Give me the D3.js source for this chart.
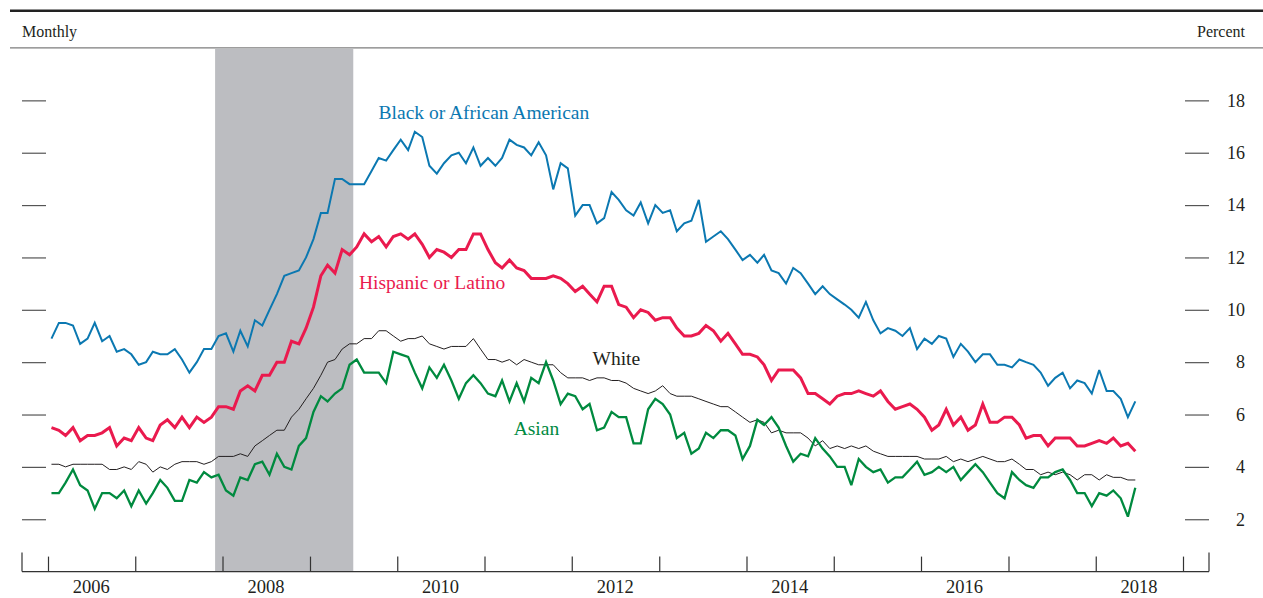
<!DOCTYPE html>
<html>
<head>
<meta charset="utf-8">
<script src="https://cdn.jsdelivr.net/npm/d3@7"></script>
<style>
  body { margin: 0; background: #ffffff; }
  svg { display: block; }
</style>
</head>
<body>
<script>
(function() {

//------------------------------------------------------------------------------
//
// Data
//
//------------------------------------------------------------------------------

// Monthly, Jan 2006 - Jun 2018, percent.
var blackRates = [
  8.9, 9.5, 9.5, 9.4, 8.7, 8.9, 9.5, 8.8, 9.0, 8.4, 8.5, 8.3,
  7.9, 8.0, 8.4, 8.3, 8.3, 8.5, 8.1, 7.6, 8.0, 8.5, 8.5, 9.0,
  9.1, 8.4, 9.2, 8.6, 9.6, 9.4, 10.0, 10.6, 11.3, 11.4, 11.5, 12.0,
  12.7, 13.7, 13.7, 15.0, 15.0, 14.8, 14.8, 14.8, 15.3, 15.8, 15.7, 16.1,
  16.5, 16.1, 16.8, 16.6, 15.5, 15.2, 15.6, 15.9, 16.0, 15.6, 16.2, 15.5,
  15.8, 15.5, 15.8, 16.5, 16.3, 16.2, 15.9, 16.4, 15.9, 14.6, 15.6, 15.4,
  13.6, 14.0, 14.0, 13.3, 13.5, 14.5, 14.2, 13.8, 13.6, 14.1, 13.3, 14.0,
  13.7, 13.8, 13.0, 13.3, 13.4, 14.2, 12.6, 12.8, 13.0, 12.7, 12.3, 11.9,
  12.1, 11.8, 12.1, 11.5, 11.4, 11.0, 11.6, 11.4, 11.0, 10.6, 10.9, 10.6,
  10.4, 10.2, 10.0, 9.7, 10.3, 9.6, 9.1, 9.3, 9.2, 9.0, 9.3, 8.5,
  8.9, 8.7, 9.0, 8.9, 8.2, 8.7, 8.4, 8.0, 8.3, 8.3, 7.9, 7.9,
  7.8, 8.1, 8.0, 7.9, 7.6, 7.1, 7.4, 7.6, 7.0, 7.3, 7.2, 6.8,
  7.7, 6.9, 6.9, 6.6, 5.9, 6.5
];

var hispanicRates = [
  5.5, 5.4, 5.2, 5.5, 5.0, 5.2, 5.2, 5.3, 5.5, 4.8, 5.1, 5.0,
  5.5, 5.1, 5.0, 5.6, 5.8, 5.5, 5.9, 5.5, 5.9, 5.7, 5.9, 6.3,
  6.3, 6.2, 6.9, 7.1, 6.9, 7.5, 7.5, 8.0, 8.0, 8.8, 8.7, 9.3,
  10.1, 11.3, 11.7, 11.4, 12.3, 12.1, 12.4, 12.9, 12.6, 12.8, 12.4, 12.8,
  12.9, 12.7, 12.9, 12.5, 12.0, 12.3, 12.2, 12.0, 12.3, 12.3, 12.9, 12.9,
  12.3, 11.8, 11.6, 11.9, 11.6, 11.5, 11.2, 11.2, 11.2, 11.3, 11.2, 11.0,
  10.7, 10.9, 10.6, 10.3, 10.9, 10.9, 10.2, 10.1, 9.7, 10.0, 9.9, 9.6,
  9.7, 9.7, 9.3, 9.0, 9.0, 9.1, 9.4, 9.2, 8.8, 9.1, 8.7, 8.3,
  8.3, 8.2, 7.9, 7.3, 7.7, 7.7, 7.7, 7.4, 6.8, 6.8, 6.6, 6.4,
  6.7, 6.8, 6.8, 6.9, 6.8, 6.7, 6.9, 6.5, 6.2, 6.3, 6.4, 6.2,
  5.9, 5.4, 5.6, 6.2, 5.6, 5.9, 5.4, 5.6, 6.4, 5.7, 5.7, 5.9,
  5.9, 5.6, 5.1, 5.2, 5.2, 4.8, 5.1, 5.1, 5.1, 4.8, 4.8, 4.9,
  5.0, 4.9, 5.1, 4.8, 4.9, 4.6
];

var whiteRates = [
  4.1, 4.1, 4.0, 4.1, 4.1, 4.1, 4.1, 4.1, 3.9, 3.9, 4.0, 3.9,
  4.2, 4.1, 3.8, 4.0, 3.9, 4.1, 4.2, 4.2, 4.2, 4.1, 4.2, 4.4,
  4.4, 4.4, 4.5, 4.4, 4.8, 5.0, 5.2, 5.4, 5.4, 5.9, 6.2, 6.6,
  7.0, 7.5, 8.0, 8.1, 8.5, 8.7, 8.7, 8.9, 8.9, 9.2, 9.2, 9.0,
  8.8, 8.9, 8.9, 9.0, 8.7, 8.6, 8.5, 8.6, 8.6, 8.6, 8.9, 8.5,
  8.1, 8.1, 8.0, 8.1, 7.9, 8.1, 8.0, 7.9, 7.9, 7.9, 7.6, 7.4,
  7.4, 7.4, 7.3, 7.4, 7.4, 7.3, 7.3, 7.2, 7.0, 6.9, 6.8, 6.9,
  7.1, 6.8, 6.7, 6.7, 6.7, 6.6, 6.5, 6.4, 6.3, 6.3, 6.1, 5.9,
  5.7, 5.8, 5.7, 5.3, 5.4, 5.3, 5.3, 5.3, 5.1, 4.8, 5.0, 4.7,
  4.8, 4.7, 4.8, 4.7, 4.8, 4.6, 4.5, 4.4, 4.4, 4.4, 4.4, 4.4,
  4.3, 4.3, 4.3, 4.4, 4.2, 4.3, 4.2, 4.3, 4.4, 4.3, 4.2, 4.2,
  4.3, 4.1, 3.9, 3.9, 3.7, 3.8, 3.7, 3.8, 3.7, 3.5, 3.7, 3.7,
  3.5, 3.7, 3.6, 3.6, 3.5, 3.5
];

var asianRates = [
  3.0, 3.0, 3.4, 3.9, 3.3, 3.1, 2.4, 3.0, 3.0, 2.8, 3.1, 2.5,
  3.1, 2.6, 3.0, 3.5, 3.2, 2.7, 2.7, 3.5, 3.4, 3.8, 3.6, 3.7,
  3.1, 2.9, 3.6, 3.5, 4.1, 4.2, 3.7, 4.5, 4.0, 3.9, 4.8, 5.1,
  6.1, 6.7, 6.5, 6.8, 7.0, 7.9, 8.1, 7.6, 7.6, 7.6, 7.2, 8.4,
  8.3, 8.2, 7.6, 7.0, 7.8, 7.4, 7.9, 7.3, 6.6, 7.2, 7.5, 7.2,
  6.8, 6.7, 7.3, 6.5, 7.2, 6.5, 7.4, 7.2, 8.0, 7.3, 6.4, 6.8,
  6.7, 6.2, 6.4, 5.4, 5.5, 6.1, 5.9, 5.9, 4.9, 4.9, 6.2, 6.6,
  6.4, 6.0, 5.1, 5.3, 4.5, 4.7, 5.3, 5.1, 5.4, 5.4, 5.2, 4.3,
  4.8, 5.8, 5.6, 5.9, 5.5, 4.8, 4.2, 4.5, 4.4, 5.1, 4.7, 4.4,
  4.0, 4.0, 3.3, 4.3, 4.0, 3.8, 3.9, 3.4, 3.6, 3.6, 3.9, 4.2,
  3.7, 3.8, 4.0, 3.8, 4.0, 3.5, 3.8, 4.1, 3.8, 3.4, 3.0, 2.8,
  3.8, 3.5, 3.3, 3.2, 3.6, 3.6, 3.8, 3.9, 3.5, 3.0, 3.0, 2.5,
  3.0, 2.9, 3.1, 2.8, 2.1, 3.2
];

var months = d3.timeMonth.range(new Date(2006, 0, 1), new Date(2018, 6, 1));
var yearTicks = d3.range(2006, 2020);
var yearLabels = [2006, 2008, 2010, 2012, 2014, 2016, 2018];
var percentTicks = [2, 4, 6, 8, 10, 12, 14, 16, 18];
var recession = [new Date(2007, 11, 1), new Date(2009, 6, 1)];


var chart = {

//------------------------------------------------------------------------------
//
// Properties
//
//------------------------------------------------------------------------------

width: 1263,
height: 598,
font: "'Liberation Serif', 'Times New Roman', Times, serif",
ink: "#231f20",

plot: { left: 48, right: 1183, top: 48, bottom: 571.6, pad: 26 },

series: [
  { name: "Black or African American", values: blackRates, color: "#0b78b1", width: 2,
    label: { at: new Date(2009, 9, 15), value: 17.27 } },
  { name: "Hispanic or Latino", values: hispanicRates, color: "#ea1a4e", width: 3,
    label: { at: new Date(2009, 6, 25), value: 10.81 } },
  { name: "White", values: whiteRates, color: "#231f20", width: 1,
    label: { at: new Date(2012, 2, 28), value: 7.89 } },
  { name: "Asian", values: asianRates, color: "#008a3f", width: 2.3,
    label: { at: new Date(2011, 4, 3), value: 5.21 } }
],

drawOrder: [0, 1, 2, 3],


//------------------------------------------------------------------------------
//
// Methods
//
//------------------------------------------------------------------------------

initialize: function() {
  var $this = this, p = this.plot;

  this.x = d3.scaleTime()
    .domain([new Date(2006, 0, 1), new Date(2019, 0, 1)])
    .range([p.left, p.right]);
  this.y = d3.scaleLinear()
    .domain([0, 20])
    .range([p.bottom, p.top]);

  this.svg = d3.select("body").append("svg")
    .attr("width", this.width)
    .attr("height", this.height)
    .style("font-family", this.font);

  this.drawFrame();
  this.drawRecession();
  this.drawAxes();
  this.drawLines();
  this.drawLabels();
},

//--------------------------------------
// Frame
//--------------------------------------

drawFrame: function() {
  this.svg.append("line")
    .attr("x1", 10).attr("x2", this.width)
    .attr("y1", 10.7).attr("y2", 10.7)
    .style("stroke", "#222222")
    .style("stroke-width", 2.6);

  this.svg.append("line")
    .attr("x1", 10).attr("x2", this.width)
    .attr("y1", 47.8).attr("y2", 47.8)
    .style("stroke", "#7d7d7d")
    .style("stroke-width", 1.3);

  this.svg.append("text")
    .attr("x", 22).attr("y", 37)
    .attr("font-size", "16px")
    .style("fill", this.ink)
    .text("Monthly");

  this.svg.append("text")
    .attr("x", 1245).attr("y", 37)
    .attr("text-anchor", "end")
    .attr("font-size", "16px")
    .style("fill", this.ink)
    .text("Percent");
},

drawRecession: function() {
  var x = this.x;
  this.svg.append("rect")
    .attr("x", x(recession[0]))
    .attr("y", this.plot.top + 0.6)
    .attr("width", x(recession[1]) - x(recession[0]))
    .attr("height", this.plot.bottom - this.plot.top - 0.6)
    .style("fill", "#bcbdc1");
},

//--------------------------------------
// Axes
//--------------------------------------

drawAxes: function() {
  var $this = this, x = this.x, y = this.y, p = this.plot;
  var x0 = p.left - p.pad, x1 = p.right + p.pad;

  // Bottom axis: a baseline with upward year ticks.
  var axis = this.svg.append("g")
    .attr("transform", "translate(0," + p.bottom + ")")
    .call(d3.axisBottom(x)
      .tickValues(yearTicks.map(function(yr) { return new Date(yr, 0, 1); }))
      .tickSize(-15)
      .tickFormat(""));
  axis.select(".domain").remove();
  axis.selectAll(".tick line")
    .style("stroke", "#333333")
    .style("stroke-width", 1.2);

  this.svg.append("line")
    .attr("x1", x0).attr("x2", x1)
    .attr("y1", p.bottom).attr("y2", p.bottom)
    .style("stroke", "#333333")
    .style("stroke-width", 1.2);

  [x0, x1].forEach(function(xe) {
    $this.svg.append("line")
      .attr("x1", xe).attr("x2", xe)
      .attr("y1", p.bottom).attr("y2", p.bottom - 19)
      .style("stroke", "#333333")
      .style("stroke-width", 1.2);
  });

  this.svg.append("g").selectAll("text")
    .data(yearLabels)
    .enter().append("text")
    .attr("x", function(d) { return x(new Date(d, 6, 1)); })
    .attr("y", 593)
    .attr("text-anchor", "middle")
    .attr("font-size", "18.5px")
    .style("fill", this.ink)
    .text(function(d) { return d; });

  // Percent ticks on both sides, labels on the right.
  var left = this.svg.append("g")
    .attr("transform", "translate(" + (x0 + 24) + ",0)")
    .call(d3.axisLeft(y).tickValues(percentTicks).tickSize(24).tickFormat(""));
  var right = this.svg.append("g")
    .attr("transform", "translate(" + (x1 - 24) + ",0)")
    .call(d3.axisRight(y).tickValues(percentTicks).tickSize(24).tickPadding(16)
      .tickFormat(function(d) { return d; }));

  [left, right].forEach(function(g) {
    g.select(".domain").remove();
    g.selectAll(".tick line")
      .style("stroke", "#555555")
      .style("stroke-width", 1.2);
  });

  right.selectAll(".tick text")
    .attr("x", 1245 - (x1 - 24))
    .attr("text-anchor", "end")
    .style("font-family", this.font)
    .style("font-size", "18px")
    .style("fill", this.ink);
},

//--------------------------------------
// Series
//--------------------------------------

midMonth: function(i) {
  var m = months[i];
  return new Date(m.getFullYear(), m.getMonth(), 15, 12);
},

drawLines: function() {
  var $this = this, x = this.x, y = this.y;
  var line = d3.line()
    .x(function(d, i) { return x($this.midMonth(i)); })
    .y(function(d) { return y(d); });

  this.drawOrder.forEach(function(k) {
    var s = $this.series[k];
    $this.svg.append("path")
      .datum(s.values)
      .attr("d", line)
      .style("fill", "none")
      .style("stroke", s.color)
      .style("stroke-width", s.width)
      .style("stroke-linejoin", "miter")
      .style("stroke-miterlimit", 3);
  });
},

drawLabels: function() {
  var x = this.x, y = this.y;
  this.svg.append("g").selectAll("text")
    .data(this.series)
    .enter().append("text")
    .attr("x", function(d) { return x(d.label.at); })
    .attr("y", function(d) { return y(d.label.value); })
    .attr("font-size", "19.5px")
    .style("fill", function(d) { return d.color; })
    .text(function(d) { return d.name; });
}

};

chart.initialize();

})();
</script>
</body>
</html>
